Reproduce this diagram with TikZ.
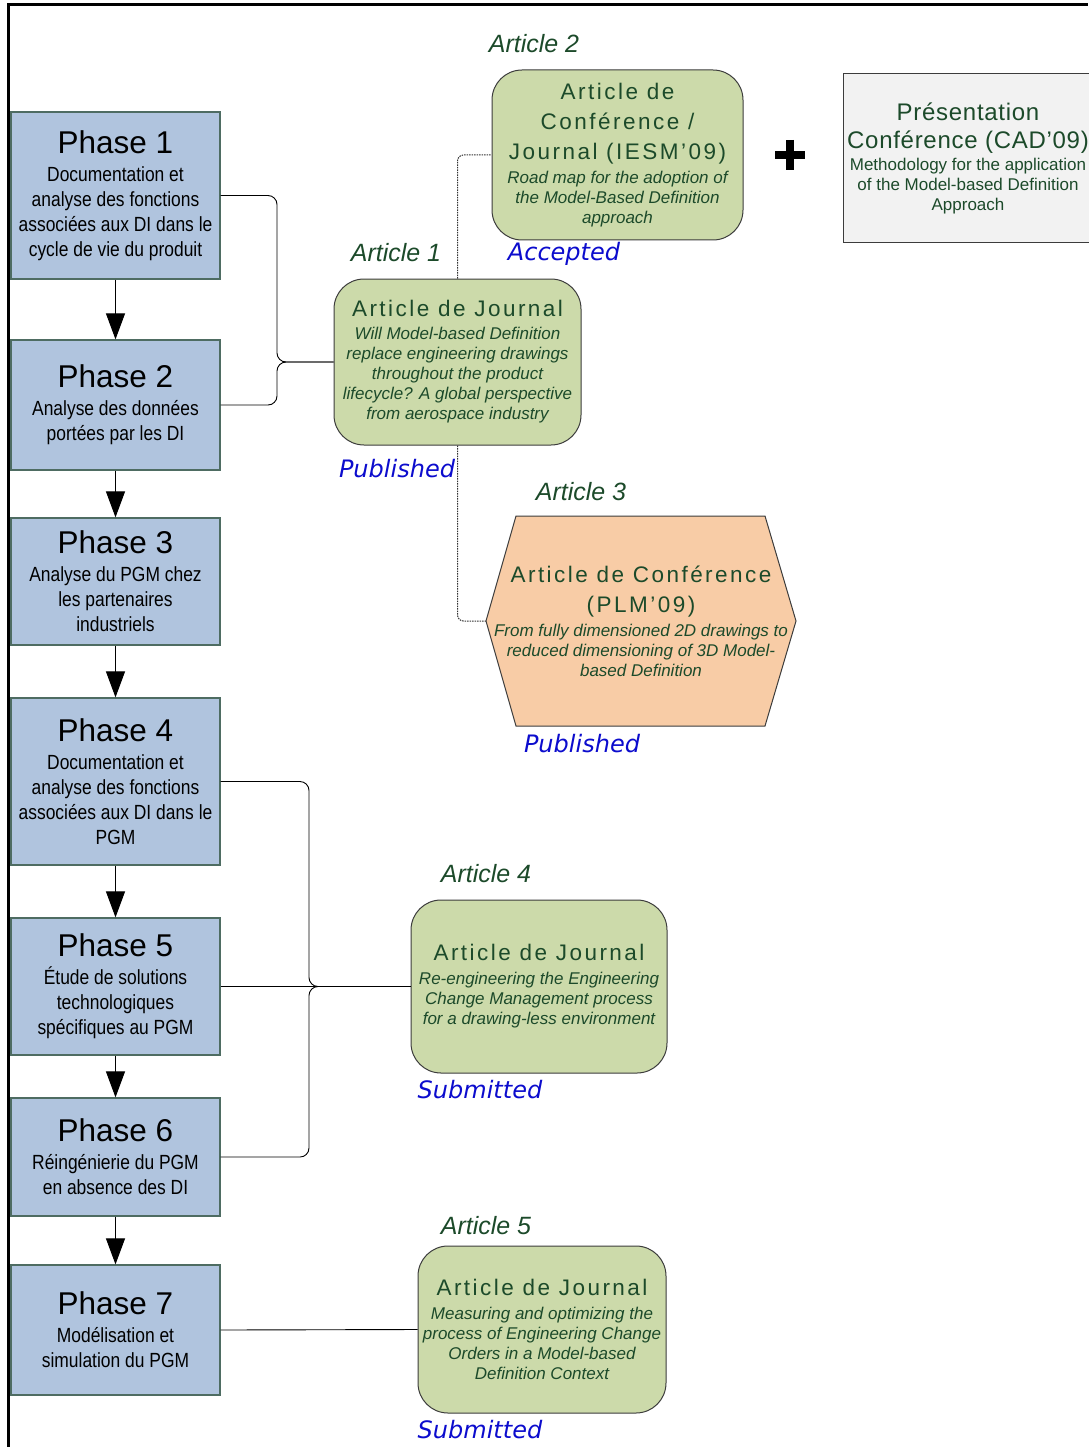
\documentclass[tikz,border=0pt]{standalone}
\usepackage{fontspec}
\setmainfont{Liberation Sans}
\newfontfamily\plainsans{Liberation Sans}
\newfontfamily\narrowsans[FakeStretch=0.85]{Liberation Sans}
\newfontfamily\spacedsans[LetterSpace=11]{Liberation Sans}
\newfontfamily\lightspaced[LetterSpace=3]{Liberation Sans}
\newfontfamily\statusface{DejaVu Sans}
\usetikzlibrary{arrows.meta}

\definecolor{phasefill}{RGB}{176,196,222}
\definecolor{phaseedge}{RGB}{78,108,98}
\definecolor{artfill}{RGB}{204,218,170}
\definecolor{artedge}{RGB}{60,60,60}
\definecolor{hexfill}{RGB}{248,204,166}
\definecolor{presfill}{RGB}{242,242,242}
\definecolor{artgreen}{RGB}{28,74,42}
\definecolor{statusblue}{RGB}{12,12,205}

\newcommand\phasehead{\plainsans\fontsize{31.5}{32}\selectfont}
\newcommand\phasetext{\narrowsans\fontsize{20.5}{25}\selectfont}
\newcommand\arthead{\spacedsans\upshape\fontsize{22.5}{20}\selectfont}
\newcommand\artsub{\plainsans\itshape\fontsize{17}{20}\selectfont}
\newcommand\preshead{\lightspaced\upshape\fontsize{24}{20}\selectfont}
\newcommand\pressub{\plainsans\fontsize{17}{20}\selectfont}
\newcommand\arttag{\plainsans\itshape\fontsize{25}{28}\selectfont}
\newcommand\statustag{\statusface\itshape\fontsize{24}{28}\selectfont}

\tikzset{
  phasebox/.style={draw=phaseedge, line width=1.2pt, fill=phasefill,
    minimum width=209pt, inner sep=0pt, align=center, font=\phasetext},
  artbox/.style={draw=artedge, line width=1pt, fill=artfill, rounded corners=30pt,
    inner sep=0pt, align=center, text=artgreen, font=\artsub},
  presbox/.style={draw=artedge, line width=1pt, fill=presfill,
    inner sep=0pt, align=center, text=artgreen, font=\pressub},
  hexbox/.style={draw=artedge, line width=1pt, fill=hexfill, line join=miter},
  tag/.style={text=artgreen, font=\arttag, inner sep=0pt},
  status/.style={text=statusblue, font=\statustag, inner sep=0pt},
  flow/.style={line width=1pt, -{Triangle[length=26pt,width=19pt]}},
  conn/.style={line width=0.9pt, rounded corners=9pt},
  dotconn/.style={line width=1pt, draw=black!80, dash pattern=on 1.5pt off 1pt, rounded corners=6pt}
}

\begin{document}
\begin{tikzpicture}[x=1pt,y=-1pt]
\useasboundingbox (0,0) rectangle (1088,1447);

% outer frame (top and left edges)
\draw[line width=3pt, line join=miter] (8,1447) -- (8,5) -- (1088,5);

% ---- research phases ----
\node[phasebox, minimum height=167pt] (p1) at (115.5,195.5)
  {{\phasehead Phase 1}\\[3pt]Documentation et\\analyse des fonctions\\associées aux DI dans le\\cycle de vie du produit};
\node[phasebox, minimum height=130pt] (p2) at (115.5,405)
  {{\phasehead Phase 2}\\[3pt]Analyse des données\\portées par les DI};
\node[phasebox, minimum height=127pt] (p3) at (115.5,581.5)
  {{\phasehead Phase 3}\\[3pt]Analyse du PGM chez\\les partenaires\\industriels};
\node[phasebox, minimum height=167pt] (p4) at (115.5,781.5)
  {{\phasehead Phase 4}\\[3pt]Documentation et\\analyse des fonctions\\associées aux DI dans le\\PGM};
\node[phasebox, minimum height=137pt] (p5) at (115.5,986.5)
  {{\phasehead Phase 5}\\[3pt]Étude de solutions\\technologiques\\spécifiques au PGM};
\node[phasebox, minimum height=118pt] (p6) at (115.5,1157)
  {{\phasehead Phase 6}\\[3pt]Réingénierie du PGM\\en absence des DI};
\node[phasebox, minimum height=130pt] (p7) at (115.5,1330)
  {{\phasehead Phase 7}\\[3pt]Modélisation et\\simulation du PGM};

\draw[flow] (p1) -- (p2);
\draw[flow] (p2) -- (p3);
\draw[flow] (p3) -- (p4);
\draw[flow] (p4) -- (p5);
\draw[flow] (p5) -- (p6);
\draw[flow] (p6) -- (p7);

% ---- publications ----
\node[artbox, minimum width=251pt, minimum height=170pt] (a2) at (617.5,155)
  {{\arthead Article de}\\[10pt]{\arthead Conférence /}\\[10pt]{\arthead Journal (IESM’09)}\\[4pt]Road map for the adoption of\\the Model-Based Definition\\approach};
\node[tag] (t2) at (534,44) {Article 2};
\node[status] (s2) at (564,254) {Accepted};

\draw[line width=7.5pt] (775,155) -- (805,155) (790,140) -- (790,170);

\node[presbox, minimum width=250pt, minimum height=169pt] (pres) at (968,158.5)
  {{\preshead Présentation}\\[8pt]{\preshead Conférence (CAD’09)}\\[2.5pt]Methodology for the application\\of the Model-based Definition\\Approach};

\node[artbox, minimum width=247pt, minimum height=166pt] (a1) at (457.5,362)
  {{\arthead Article de Journal}\\[3pt]Will Model-based Definition\\replace engineering drawings\\throughout the product\\lifecycle? A global perspective\\from aerospace industry};
\node[tag] (t1) at (396,253) {Article 1};
\node[status] (s1) at (397,469) {Published};

% hexagonal conference paper
\draw[hexbox] (516,516) -- (765,516) -- (796,621) -- (765,726) -- (516,726) -- (486,621) -- cycle;
\coordinate (a3w) at (486,621);
\node[align=center, text=artgreen, font=\artsub, inner sep=0pt] (a3) at (641,621)
  {{\arthead Article de Conférence}\\[10pt]{\arthead (PLM’09)}\\[4pt]From fully dimensioned 2D drawings to\\reduced dimensioning of 3D Model-\\based Definition};
\node[tag] (t3) at (581,492) {Article 3};
\node[status] (s3) at (582,744) {Published};

\node[artbox, minimum width=256pt, minimum height=173pt] (a4) at (539,986.5)
  {{\arthead Article de Journal}\\[4pt]Re-engineering the Engineering\\Change Management process\\for a drawing-less environment};
\node[tag] (t4) at (486,874) {Article 4};
\node[status] (s4) at (480,1090) {Submitted};

\node[artbox, minimum width=248pt, minimum height=167pt] (a5) at (542,1329.5)
  {{\arthead Article de Journal}\\[4pt]Measuring and optimizing the\\process of Engineering Change\\Orders in a Model-based\\Definition Context};
\node[tag] (t5) at (486,1226) {Article 5};
\node[status] (s5) at (480,1430) {Submitted};

% ---- links between phases and publications ----
\draw[conn] (p1.east) -- (277,195.5) -- (277,362) -- (a1.west);
\draw[conn] (p2.east) -- (277,405) -- (277,362) -- (a1.west);

\draw[conn] (p4.east) -- (309,781.5) -- (309,986.5) -- (a4.west);
\draw[conn] (p6.east) -- (309,1157) -- (309,986.5) -- (a4.west);
\draw[conn] (p5.east) -- (a4.west);

\draw[conn] (p7.east) -- (a5.west);

\draw[dotconn] (a1.north) |- (a2.west);
\draw[dotconn] (a1.south) |- (a3w);
\end{tikzpicture}
\end{document}
